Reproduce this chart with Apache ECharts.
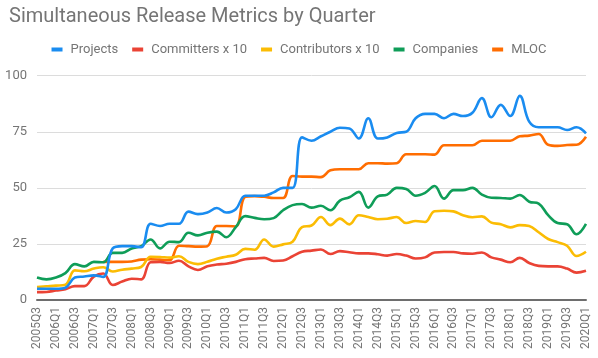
<!DOCTYPE html>
<html>
<head>
<meta charset="utf-8">
<script src="https://cdn.jsdelivr.net/npm/echarts@6/dist/echarts.min.js"></script>
<style>
html,body{margin:0;padding:0;background:#fff;}
#chart{width:598px;height:358px;}
</style>
</head>
<body>
<div id="chart"></div>
<script>
var quarters = ["2005Q3","2005Q4","2006Q1","2006Q2","2006Q3","2006Q4","2007Q1","2007Q2","2007Q3","2007Q4",
"2008Q1","2008Q2","2008Q3","2008Q4","2009Q1","2009Q2","2009Q3","2009Q4","2010Q1","2010Q2",
"2010Q3","2010Q4","2011Q1","2011Q2","2011Q3","2011Q4","2012Q1","2012Q2","2012Q3","2012Q4",
"2013Q1","2013Q2","2013Q3","2013Q4","2014Q1","2014Q2","2014Q3","2014Q4","2015Q1","2015Q2",
"2015Q3","2015Q4","2016Q1","2016Q2","2016Q3","2016Q4","2017Q1","2017Q2","2017Q3","2017Q4",
"2018Q1","2018Q2","2018Q3","2018Q4","2019Q1","2019Q2","2019Q3","2019Q4","2020Q1"];

var projects = [5,5,5,5.5,10,10.5,11,10.3,23,24,
24,23.5,34,33,34,34,39.4,38.3,39,41,
39,40.5,46.5,46.5,46.5,48,50,50,72.5,71,
73,75,76.8,76.5,72,81,72,72.5,74.5,75,
81,83,83,81,83,82,83.5,90,81.5,87,
82,91,79.5,77,77,77,75.8,77,74.3];

var committers = [3.5,3.6,4.2,4.8,6.2,6.2,10.4,11.8,6.7,8.2,
9.5,9.2,16.8,17,16.5,17.5,15,13.4,15,15.8,
16.2,17,18.2,18.5,18.8,17.4,17.6,19.5,21.5,22,
22.5,20.5,21.8,21.3,20.8,20.8,20.4,19.8,20.5,19.8,
18.5,19,21.2,21.4,21.4,20.8,20.6,21.2,19,18,
16.8,18.8,16.5,15.2,15,15,14,12.2,13];

var contributors = [5.8,6.1,6.4,6.8,13.2,12.8,14,14.6,12.7,13.5,
14,14.7,19.3,19.2,18.9,19.5,17,16,17,18.4,
19.3,20.2,22.8,22.4,27,23.8,24.8,26,32.5,33.2,
37,33.4,36.3,33.7,37.8,37,36,36.2,37,34.3,
35.2,34.8,39.6,39.8,39.5,37.8,36.9,37.3,34.5,33.8,
32.4,33.4,33,30.2,27.2,25.8,24.2,19.6,21.5];

var companies = [10,9.2,10,12,16,15,17,16.8,21,21,
23,24,27,23,26,25.8,30,28.8,30,30.5,
28,32.5,37.4,36.6,36,36.5,40,42.3,42.8,41.2,
42,40,44.3,45.8,48.2,41.2,46.2,47,50,49.5,
46.5,47.8,50.8,45.2,49,49,50,47,45.6,45.5,
45.2,46.8,43.8,43,37.8,34.3,33.8,29.3,33.9];

var mloc = [null,null,null,null,null,null,null,17,17,17,
17.2,18,18.2,18,17.7,24.2,24,23.8,24,33,
33,32.8,46,46.3,46,45.5,45.5,55.3,55,55,
54.8,57.8,58.3,58.3,58.3,61,61,60.8,61,65,
65,65,64.8,69,69,69,69,71,71,71,
71,73,73.3,74,69.2,68.7,69.1,69.2,72.8];

var yTicks = [0,25,50,75,100];

var seriesNames = ["Projects","Committers x 10","Contributors x 10","Companies","MLOC"];
var seriesData = [projects, committers, contributors, companies, mloc];
var colors = ["#1a8cf0","#ea4335","#fbbc04","#0f9d58","#ff6d01"];

var chart = echarts.init(document.getElementById('chart'), null, {renderer:'canvas'});
var font = 'Roboto, "Noto Sans", sans-serif';

chart.setOption({
  animation: false,
  color: colors,
  title: {
    text: "Simultaneous Release Metrics by Quarter",
    left: 4, top: 2,
    textStyle: {fontFamily: font, fontSize: 20, fontWeight: 'normal', color: '#757575'}
  },
  legend: {
    data: seriesNames,
    top: 38, left: 'center',
    icon: 'rect', itemWidth: 11, itemHeight: 4, itemGap: 14,
    textStyle: {fontFamily: font, fontSize: 13, color: '#757575', padding: [0,0,0,3]}
  },
  grid: {left: 37, right: 12, top: 75.7, bottom: 58, containLabel: false},
  xAxis: {
    type: 'category',
    data: quarters,
    boundaryGap: false,
    axisLine: {show: true, lineStyle: {color: '#6e6e6e', width: 2}},
    axisTick: {show: false},
    axisLabel: {interval: 1, rotate: 90, fontFamily: font, fontSize: 12, color: '#757575', margin: 7},
    splitLine: {show: false}
  },
  yAxis: {
    type: 'value',
    min: yTicks[0], max: yTicks[yTicks.length-1], interval: 25,
    axisLine: {show: false},
    axisTick: {show: false},
    axisLabel: {fontFamily: font, fontSize: 13, color: '#757575', margin: 10},
    splitLine: {lineStyle: {color: '#dcdcdc', width: 1}}
  },
  series: seriesNames.map(function(n, i){
    return {
      name: n, type: 'line', data: seriesData[i],
      smooth: 0.4, showSymbol: false, symbol: 'none',
      lineStyle: {width: 2.6, color: colors[i]},
      itemStyle: {color: colors[i]},
      z: 5 - i
    };
  })
});
</script>
</body>
</html>
